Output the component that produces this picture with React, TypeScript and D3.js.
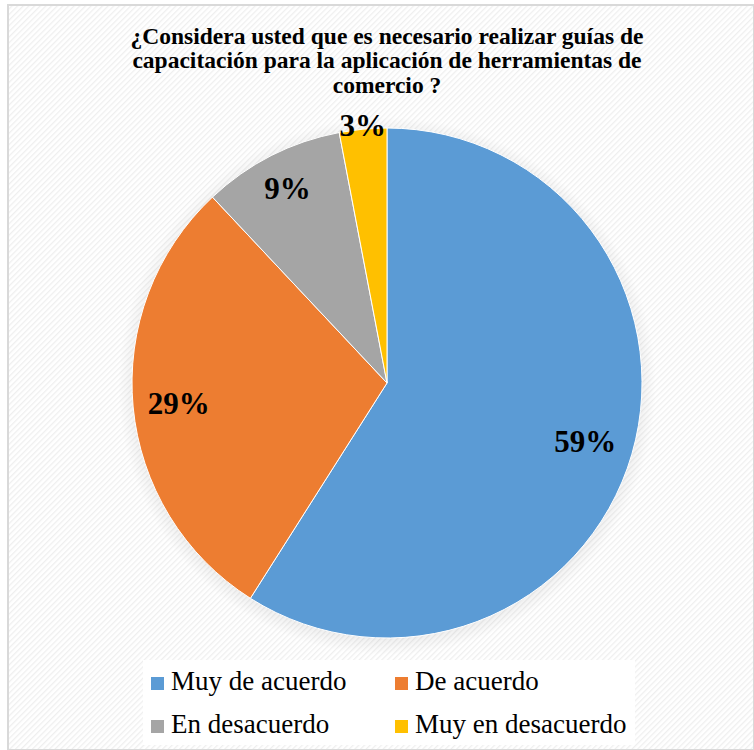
import React from "react";
import * as d3 from "d3";

const categories = ["Muy de acuerdo", "De acuerdo", "En desacuerdo", "Muy en desacuerdo"];
const values = [59, 29, 9, 3];
const labels = ["59%", "29%", "9%", "3%"];
const colors = ["#5B9BD5", "#ED7D31", "#A5A5A5", "#FFC000"];
const labelRadiusFactor = [0.81, 0.82, 0.86, 1.015];
const titleLines = [
  "¿Considera usted que es necesario realizar guías de",
  "capacitación para la aplicación de herramientas de",
  "comercio ?",
];

const W = 754;
const H = 750;
const cx = 387;
const cy = 383;
const R = 255;
const SERIF = "Liberation Serif";

export default function App() {
  const pie = d3.pie<number>().value((d) => d).sort(null);
  const arcs = pie(values);
  const arcGen = d3.arc<d3.PieArcDatum<number>>().innerRadius(0).outerRadius(R);

  const legendPos = [
    { x: 151, y: 690 },
    { x: 395, y: 690 },
    { x: 151, y: 733 },
    { x: 395, y: 733 },
  ];

  return (
    <svg width={W} height={H} style={{ position: "absolute", left: 0, top: 0, fontFamily: SERIF }}>
      <defs>
        <pattern id="stripes" width="4" height="4" patternUnits="userSpaceOnUse" patternTransform="rotate(45)">
          <rect width="4" height="4" fill="#ffffff" />
          <rect width="1.3" height="4" fill="#efefef" />
        </pattern>
        <radialGradient id="glow" cx="0.5" cy="0.5" r="0.5">
          <stop offset="0.85" stopColor="#000" stopOpacity="0.14" />
          <stop offset="1" stopColor="#000" stopOpacity="0" />
        </radialGradient>
      </defs>
      <rect x={0} y={0} width={W} height={H} fill="#ffffff" />
      <rect x={8} y={5} width={W - 8} height={H - 5} fill="url(#stripes)" stroke="#d9d9d9" strokeWidth={2} />
      {titleLines.map((t, i) => (
        <text
          key={i}
          x={387}
          y={43.5 + i * 24.5}
          textAnchor="middle"
          fontWeight="bold"
          fontSize={23.5}
          fill="#000"
          style={{ fontFamily: SERIF }}
        >
          {t}
        </text>
      ))}
      <circle cx={cx} cy={cy + 3} r={R + 14} fill="url(#glow)" />
      <g transform={`translate(${cx},${cy})`}>
        {arcs.map((a, i) => (
          <path key={i} d={arcGen(a) || ""} fill={colors[i]} stroke="#ffffff" strokeWidth={1} />
        ))}
        {arcs.map((a, i) => {
          const mid = (a.startAngle + a.endAngle) / 2;
          const r = R * labelRadiusFactor[i];
          const x = Math.sin(mid) * r;
          const y = -Math.cos(mid) * r;
          return (
            <text
              key={i}
              x={x}
              y={y + 11}
              textAnchor="middle"
              fontWeight="bold"
              fontSize={31}
              fill="#000"
              style={{ fontFamily: SERIF }}
            >
              {labels[i]}
            </text>
          );
        })}
      </g>
      <rect x={143} y={660} width={492} height={85} fill="#ffffff" />
      {categories.map((c, i) => (
        <g key={i}>
          <rect x={legendPos[i].x} y={legendPos[i].y - 13} width={13} height={13} fill={colors[i]} />
          <text
            x={legendPos[i].x + 20}
            y={legendPos[i].y}
            fontSize={27}
            fill="#000"
            style={{ fontFamily: SERIF }}
          >
            {c}
          </text>
        </g>
      ))}
    </svg>
  );
}
